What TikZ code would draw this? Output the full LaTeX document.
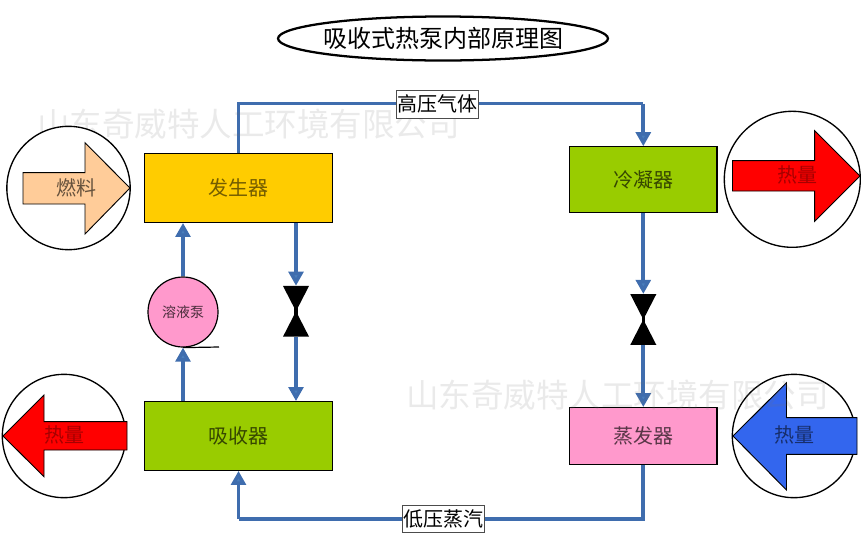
\documentclass[tikz,border=0pt]{standalone}
\usepackage{fontspec}
\setmainfont{Noto Sans CJK SC}
\usetikzlibrary{arrows.meta,shapes.geometric,calc}
\definecolor{pipe}{HTML}{3F6DAE}
\definecolor{tipc}{HTML}{4A7EBB}
\definecolor{genc}{HTML}{FFCC00}
\definecolor{grn}{HTML}{99CC00}
\definecolor{pnk}{HTML}{FF99CC}
\definecolor{fuelc}{HTML}{FFCC99}
\definecolor{blu}{HTML}{3366EE}
\tikzset{
  unitbox/.style={draw=black,line width=.9pt,minimum height=#1,inner sep=0pt,font=\fontsize{15}{15}\selectfont},
  ring/.style={circle,draw=black,line width=1pt,fill=white,inner sep=0pt},
  blockarrow/.style={draw=black,line width=.7pt,line join=miter},
  pipeline/.style={draw=pipe,line width=2.8pt},
  flow/.style={pipeline,-{Triangle[width=11pt,length=10.5pt,fill=tipc]}},
  tag/.style={draw=black!70,line width=.4pt,fill=white,inner sep=0pt,font=\fontsize{15}{15}\selectfont},
  heatlabel/.style={inner sep=0pt,font=\fontsize{15}{15}\selectfont},
  valveshape/.style={minimum width=19.5pt,minimum height=38pt,inner sep=0pt,
    path picture={\fill[black] (path picture bounding box.north west)--(path picture bounding box.north east)--(path picture bounding box.center)--cycle;
    \fill[black] (path picture bounding box.south west)--(path picture bounding box.south east)--(path picture bounding box.center)--cycle;
    \fill[black] ([xshift=-1.2pt]path picture bounding box.center) rectangle ([xshift=1.2pt,yshift=3pt]path picture bounding box.center);
    \fill[black] ([xshift=-1.2pt,yshift=-3pt]path picture bounding box.center) rectangle ([xshift=1.2pt]path picture bounding box.center);}},
  mark text/.style={inner sep=0pt,text=black!55,opacity=.15,font=\fontsize{24.4}{24.4}\selectfont},
}
\begin{document}
\begin{tikzpicture}[x=.75pt,y=-.75pt]
\useasboundingbox (0,0) rectangle (863,540);
% title
\node[ellipse,draw=black,line width=1.7pt,minimum height=33pt,inner xsep=-2.5pt,inner ysep=0pt,font=\fontsize{18}{18}\selectfont] (title) at (443,38.5) {吸收式热泵内部原理图};
% units
\node[unitbox=51.5pt,minimum width=141pt,fill=genc,text=genc!45!black] (gen) at (238.5,188) {发生器};
\node[unitbox=51.5pt,minimum width=141pt,fill=grn,text=grn!35!black] (abs) at (238.5,436) {吸收器};
\node[unitbox=49pt,minimum width=110.5pt,fill=grn,text=grn!35!black] (con) at (643.3,179.5) {冷凝器};
\node[unitbox=42.5pt,minimum width=110.5pt,fill=pnk,text=pnk!35!black] (eva) at (643.3,436) {蒸发器};
\node[circle,draw=black,line width=.9pt,fill=pnk,text=pnk!30!black,minimum size=52.5pt,inner sep=0pt,font=\fontsize{10.5}{10.5}\selectfont] (pump) at (183,312) {溶液泵};
\coordinate (pumpfoot) at (219,347);
\draw[black,line width=.9pt] (pump.south) -- (pumpfoot);
% pipes
\node[valveshape] (v1) at (296,311.3) {};
\node[valveshape] (v2) at (643.3,319.5) {};
\coordinate (topL) at (238.5,103.5);
\coordinate (topR) at (643.3,103.5);
\coordinate (botR) at (643.3,518.7);
\coordinate (botL) at (238.5,518.7);
\draw[pipeline] (gen.north) -- (topL) -- (topR);
\draw[flow] (topR) -- (con.north);
\draw[pipeline] (eva.south) -- (botR) -- (botL);
\draw[flow] (botL) -- (abs.south);
\draw[flow] (pump.north) -- (pump.north |- gen.south);
\draw[flow] (abs.north -| pump.south) -- (pump.south);
\draw[flow] (gen.south -| v1.north) -- (v1.north);
\draw[flow] (v1.south) -- (abs.north -| v1.south);
\draw[flow] (con.south) -- (v2.north);
\draw[flow] (v2.south) -- (eva.north);
% upper watermark lies beneath the pipe label
\node[mark text] (w1) at (248.5,124) {山东奇威特人工环境有限公司};
\node[tag,minimum width=61.5pt,minimum height=21pt] (hi) at (437,104) {高压气体};
\node[tag,minimum width=61.5pt,minimum height=20pt] (lo) at (443.5,519) {低压蒸汽};
% fuel
\node[ring,minimum size=92.5pt] (c1) at (68.5,188) {};
\draw[blockarrow,fill=fuelc] (23,172.7) -- (85,172.7) -- (85,142.7) -- (130,188) -- (85,234) -- (85,204) -- (23,204) -- cycle;
\node[heatlabel,text=fuelc!40!black] (t1) at (76,188) {燃料};
% heat out, left
\node[ring,minimum size=92.5pt] (c2) at (64,436) {};
\draw[blockarrow,fill=red] (127,421.7) -- (44,421.7) -- (44,395) -- (3,436) -- (44,476.7) -- (44,450) -- (127,450) -- cycle;
\node[heatlabel,text=red!65!black] (t2) at (64,435) {热量};
% heat out, right
\node[ring,minimum size=102pt] (c3) at (792.3,179.3) {};
\draw[blockarrow,fill=red] (732.5,160.7) -- (814.7,160.7) -- (814.7,130.7) -- (860,176) -- (814.7,221.3) -- (814.7,191) -- (732.5,191) -- cycle;
\node[heatlabel,text=red!65!black] (t3) at (797,175) {热量};
% heat in, right
\node[ring,minimum size=92.5pt] (c4) at (794,436) {};
\draw[blockarrow,fill=blu] (857,417.7) -- (786.5,417.7) -- (786.5,382.7) -- (733,436) -- (786.5,490) -- (786.5,454.3) -- (857,454.3) -- cycle;
\node[heatlabel,text=blu!45!black] (t4) at (794,435) {热量};
% lower watermark lies over the drawing
\node[mark text] (w2) at (617.5,395) {山东奇威特人工环境有限公司};
\end{tikzpicture}
\end{document}
